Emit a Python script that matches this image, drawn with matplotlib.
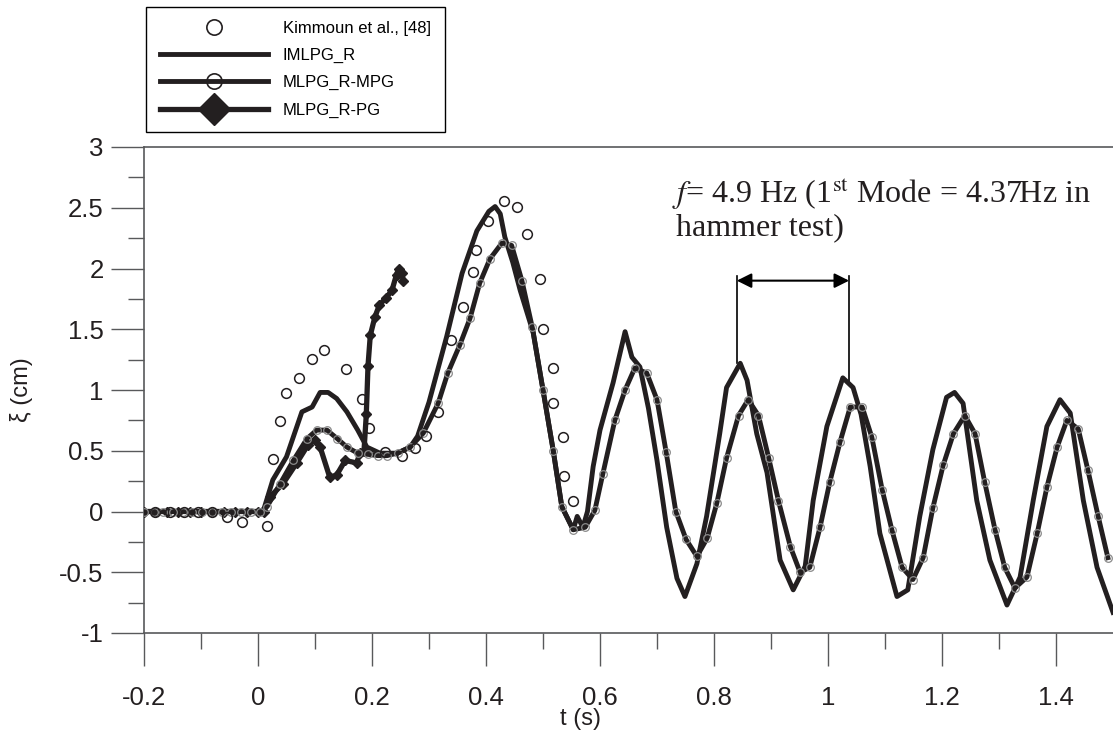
import matplotlib
matplotlib.use("Agg")
import matplotlib.pyplot as plt

# Kimmoun et al. experiment (open circles)
t_exp = [-0.18, -0.155, -0.13, -0.105, -0.08, -0.054, -0.028, 0.016, 0.026, 0.039,
         0.049, 0.072, 0.095, 0.116, 0.155, 0.183, 0.195, 0.223, 0.253, 0.275,
         0.295, 0.316, 0.339, 0.360, 0.377, 0.382, 0.404, 0.432, 0.454, 0.472,
         0.495, 0.500, 0.518, 0.518, 0.535, 0.536, 0.553]
y_exp = [0.0, 0.0, 0.0, 0.0, 0.0, -0.045, -0.086, -0.12, 0.43, 0.745,
         0.975, 1.10, 1.255, 1.33, 1.17, 0.93, 0.69, 0.49, 0.46, 0.52,
         0.62, 0.82, 1.41, 1.68, 1.97, 2.15, 2.39, 2.555, 2.51, 2.28,
         1.91, 1.50, 1.18, 0.89, 0.61, 0.29, 0.09]

# IMLPG_R
t_im = [-0.2, 0.009, 0.026, 0.05, 0.077, 0.095, 0.109, 0.123, 0.138, 0.156,
        0.175, 0.191, 0.214, 0.244, 0.267, 0.28, 0.30, 0.331, 0.358, 0.384,
        0.405, 0.416, 0.425, 0.433, 0.447, 0.46, 0.483, 0.50, 0.518, 0.533,
        0.553, 0.56, 0.57, 0.578, 0.588, 0.60, 0.623, 0.644, 0.656, 0.670,
        0.685, 0.70, 0.717, 0.735, 0.749, 0.77, 0.787, 0.81, 0.822, 0.846,
        0.858, 0.875, 0.893, 0.916, 0.939, 0.96, 0.974, 0.998, 1.026, 1.044,
        1.058, 1.074, 1.091, 1.121, 1.14, 1.161, 1.184, 1.208, 1.222, 1.237,
        1.261, 1.284, 1.314, 1.337, 1.36, 1.384, 1.407, 1.425, 1.448, 1.472,
        1.50]
y_im = [0.0, 0.0, 0.26, 0.45, 0.82, 0.86, 0.98, 0.98, 0.93, 0.82,
        0.67, 0.53, 0.48, 0.48, 0.53, 0.62, 0.90, 1.44, 1.96, 2.31,
        2.47, 2.51, 2.45, 2.26, 2.05, 1.82, 1.47, 1.0, 0.5, 0.04,
        -0.15, -0.04, -0.13, 0.0, 0.37, 0.67, 1.06, 1.48, 1.27, 1.19,
        0.85, 0.42, -0.13, -0.55, -0.70, -0.43, -0.04, 0.64, 1.02, 1.22,
        1.08, 0.64, 0.32, -0.40, -0.645, -0.45, 0.09, 0.70, 1.10, 1.02,
        0.8, 0.37, -0.18, -0.70, -0.645, -0.04, 0.51, 0.94, 0.98, 0.89,
        0.09, -0.40, -0.77, -0.54, 0.09, 0.70, 0.92, 0.81, 0.09, -0.46,
        -0.83]

# MLPG_R-MPG
t_mpg = [-0.2, -0.183, -0.166, -0.149, -0.132, -0.115, -0.098, -0.081, -0.064, -0.047,
         -0.030, -0.013, 0.004, 0.016, 0.039, 0.062, 0.086, 0.103, 0.121, 0.139,
         0.156, 0.175, 0.193, 0.21, 0.226, 0.245, 0.267, 0.29, 0.316, 0.333,
         0.354, 0.372, 0.389, 0.407, 0.428, 0.445, 0.463, 0.481, 0.50, 0.518,
         0.533, 0.553, 0.574, 0.591, 0.605, 0.626, 0.644, 0.661, 0.682, 0.70,
         0.716, 0.733, 0.751, 0.77, 0.788, 0.805, 0.822, 0.843, 0.860, 0.878,
         0.896, 0.913, 0.934, 0.951, 0.968, 0.986, 1.003, 1.021, 1.039, 1.06,
         1.077, 1.095, 1.112, 1.13, 1.149, 1.167, 1.184, 1.202, 1.22, 1.24,
         1.258, 1.275, 1.293, 1.31, 1.328, 1.349, 1.367, 1.384, 1.402, 1.419,
         1.439, 1.456, 1.474, 1.491]
y_mpg = [0.0, 0.0, 0.0, 0.0, 0.0, 0.0, 0.0, 0.0, 0.0, 0.0,
         0.0, 0.0, 0.0, 0.04, 0.23, 0.42, 0.60, 0.67, 0.67, 0.60,
         0.53, 0.48, 0.47, 0.46, 0.46, 0.48, 0.53, 0.645, 0.89, 1.14,
         1.37, 1.59, 1.88, 2.08, 2.21, 2.19, 1.90, 1.52, 1.0, 0.5,
         0.04, -0.15, -0.13, 0.01, 0.31, 0.75, 1.0, 1.18, 1.14, 0.92,
         0.49, 0.0, -0.23, -0.37, -0.22, 0.07, 0.44, 0.79, 0.92, 0.79,
         0.44, 0.09, -0.29, -0.50, -0.46, -0.13, 0.24, 0.57, 0.86, 0.86,
         0.61, 0.18, -0.15, -0.46, -0.56, -0.38, 0.03, 0.38, 0.64, 0.79,
         0.64, 0.24, -0.15, -0.46, -0.63, -0.54, -0.18, 0.20, 0.53, 0.75,
         0.68, 0.34, -0.04, -0.38]

# MLPG_R-PG
t_pg = [-0.2, -0.18, -0.16, -0.14, -0.12, -0.10, -0.08, -0.06, -0.04, -0.02,
        0.0, 0.01, 0.021, 0.044, 0.068, 0.088, 0.10, 0.109, 0.126, 0.138,
        0.153, 0.173, 0.179, 0.186, 0.19, 0.193, 0.197, 0.205, 0.213, 0.225,
        0.235, 0.243, 0.247, 0.252, 0.255]
y_pg = [0.0, 0.0, 0.0, 0.0, 0.0, 0.0, 0.0, 0.0, 0.0, 0.0,
        0.0, 0.0, 0.12, 0.23, 0.40, 0.55, 0.59, 0.53, 0.28, 0.30,
        0.42, 0.40, 0.48, 0.50, 0.80, 1.20, 1.45, 1.60, 1.70, 1.76,
        1.82, 1.95, 2.0, 1.96, 1.90]

# period marker for the annotation
per_left, per_right = 0.840, 1.037
per_left_low, per_right_low = 1.22, 1.06
per_y, per_top = 1.90, 1.94

ink = "#231f20"
axcol = "#58595b"

plt.rcParams["font.family"] = ["Liberation Sans", "DejaVu Sans"]
plt.rcParams["mathtext.fontset"] = "stix"

fig = plt.figure(figsize=(11.13, 7.43), dpi=100)
ax = fig.add_axes([144 / 1113, 110 / 743, 969 / 1113, 486 / 743])

ax.plot(t_pg, y_pg, color=ink, lw=3.8, marker="D", ms=5, mfc=ink, mec=ink,
        label="MLPG_R-PG", zorder=3)
ax.plot(t_im, y_im, color=ink, lw=3.5, label="IMLPG_R", zorder=3)
ax.plot(t_mpg, y_mpg, color=ink, lw=3.5, marker="o", ms=5.5, mfc="none",
        mec="#8a8a8a", mew=0.9, label="MLPG_R-MPG", zorder=3)
ax.plot(t_exp, y_exp, ls="none", marker="o", ms=7, mfc="none", mec=ink, mew=1.1,
        label="Kimmoun et al., [48]", zorder=4)

ax.set_xlim(-0.2, 1.5)
ax.set_ylim(-1, 3)
ax.set_xticks([-0.2, 0, 0.2, 0.4, 0.6, 0.8, 1, 1.2, 1.4])
ax.set_xticklabels(["-0.2", "0", "0.2", "0.4", "0.6", "0.8", "1", "1.2", "1.4"])
ax.set_xticks([-0.1, 0.1, 0.3, 0.5, 0.7, 0.9, 1.1, 1.3], minor=True)
ax.set_yticks([-1, -0.5, 0, 0.5, 1, 1.5, 2, 2.5, 3])
ax.set_yticklabels(["-1", "-0.5", "0", "0.5", "1", "1.5", "2", "2.5", "3"])
ax.set_yticks([-0.75, -0.25, 0.25, 0.75, 1.25, 1.75, 2.25, 2.75], minor=True)

ax.tick_params(which="both", direction="out", color=axcol, width=1.0,
               labelsize=18.5, labelcolor=ink)
ax.tick_params(which="major", length=24, pad=5)
ax.tick_params(which="minor", length=11.5)
ax.tick_params(axis="x", which="major", pad=14)

for s in ["left", "bottom", "top"]:
    ax.spines[s].set_color(axcol)
    ax.spines[s].set_linewidth(1.2)
ax.spines["right"].set_visible(False)

ax.set_xlabel("t (s)", fontsize=17, color=ink)
ax.xaxis.set_label_coords(0.45, -0.155)
ax.set_ylabel("\u03be (cm)", fontsize=17, color=ink)
ax.yaxis.set_label_coords(-0.115, 0.5)

# annotation
ax.text(0.726, 2.54, r"$f$= 4.9 Hz (1$^{\rm st}$ Mode = 4.37Hz in",
        family="Liberation Serif", fontsize=23, color=ink, va="baseline")
ax.text(0.733, 2.27, "hammer test)", family="Liberation Serif", fontsize=23,
        color=ink, va="baseline")
ax.annotate("", xy=(per_left, per_y), xytext=(per_right, per_y),
            arrowprops=dict(arrowstyle="<|-|>", color="black", lw=1.5,
                            mutation_scale=22, shrinkA=0, shrinkB=0))
ax.plot([per_left, per_left], [per_left_low, per_top], color="black", lw=1.2)
ax.plot([per_right, per_right], [per_right_low, per_top], color="black", lw=1.2)

# legend above the axes
h, l = ax.get_legend_handles_labels()
order = [3, 1, 2, 0]
leg = fig.legend([h[i] for i in order], [l[i] for i in order],
                 loc="upper left", bbox_to_anchor=(146 / 1113, 1 - 7 / 743),
                 borderaxespad=0, fontsize=12, numpoints=1, handlelength=6.45,
                 handletextpad=0.9, labelspacing=0.72, borderpad=0.85,
                 fancybox=False, edgecolor="black", framealpha=1)
leg.get_frame().set_linewidth(1.0)
leg.legend_handles[0].set_markersize(11)
leg.legend_handles[0].set_markeredgewidth(1.2)
leg.legend_handles[2].set_markersize(11)
leg.legend_handles[2].set_markeredgecolor(ink)
leg.legend_handles[2].set_markeredgewidth(1.2)
leg.legend_handles[3].set_markersize(16)

fig.savefig("out.png", dpi=100)
